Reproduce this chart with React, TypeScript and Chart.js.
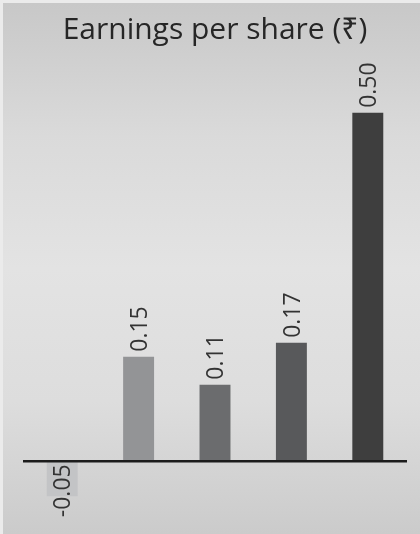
import React, { useEffect, useRef } from "react";
import { Chart, registerables } from "chart.js";

Chart.register(...registerables);

const categories = ["Q1", "Q2", "Q3", "Q4", "Q5"];
const epsValues = [-0.05, 0.15, 0.11, 0.17, 0.5];
const barColors = ["#c3c4c6", "#939496", "#6b6c6e", "#58595b", "#3e3e3e"];
const titleText = "Earnings per share (₹)";

const FONT = "'Open Sans', 'Noto Sans', 'DejaVu Sans', sans-serif";

const labelPlugin = {
  id: "epsLabels",
  afterDatasetsDraw(chart: any) {
    const ctx = chart.ctx;
    const meta = chart.getDatasetMeta(0);
    const area = chart.chartArea;
    const yZero = chart.scales.y.getPixelForValue(0);
    // zero line
    ctx.save();
    ctx.strokeStyle = "#1c1c1c";
    ctx.lineWidth = 2.6;
    ctx.beginPath();
    ctx.moveTo(area.left - 1, yZero);
    ctx.lineTo(area.right + 1, yZero);
    ctx.stroke();
    ctx.restore();

    const size = 23;
    const capH = size * 0.714;
    meta.data.forEach((bar: any, i: number) => {
      const v = epsValues[i];
      const text = v.toFixed(2);
      ctx.save();
      ctx.font = `${size}px ${FONT}`;
      ctx.fillStyle = "#333333";
      ctx.textBaseline = "alphabetic";
      if (v >= 0) {
        ctx.translate(bar.x, bar.y - 5);
        ctx.rotate(-Math.PI / 2);
        ctx.textAlign = "left";
      } else {
        ctx.translate(bar.x, bar.base + 3);
        ctx.rotate(-Math.PI / 2);
        ctx.textAlign = "right";
      }
      ctx.fillText(text, 0, capH / 2);
      ctx.restore();
    });
  },
};

export default function App() {
  const canvasRef = useRef<HTMLCanvasElement | null>(null);

  useEffect(() => {
    if (!canvasRef.current) return;
    const chart = new Chart(canvasRef.current, {
      type: "bar",
      data: {
        labels: categories,
        datasets: [
          {
            data: epsValues,
            backgroundColor: barColors,
            borderWidth: 0,
            barPercentage: 0.405,
            categoryPercentage: 1,
          },
        ],
      },
      options: {
        animation: false,
        responsive: true,
        maintainAspectRatio: false,
        layout: { padding: { left: 24, right: 14, top: 0, bottom: 3 } },
        plugins: {
          legend: { display: false },
          tooltip: { enabled: false },
          title: {
            display: true,
            text: titleText,
            color: "#262626",
            font: { family: FONT, size: 30, weight: "normal" },
            padding: { top: 12.5, bottom: 29.5 },
          },
        },
        scales: {
          x: { display: false, offset: true },
          y: { display: false, min: -0.1, max: 0.55 },
        },
      },
      plugins: [labelPlugin],
    });
    return () => chart.destroy();
  }, []);

  return (
    <div
      style={{
        position: "fixed",
        left: 0,
        top: 0,
        width: 420,
        height: 534,
        background: "#ebebeb",
      }}
    >
      <div
        style={{
          position: "absolute",
          left: 3,
          top: 3,
          right: 0,
          bottom: 0,
          background:
            "linear-gradient(to bottom, #c8c8c8 0%, #dadada 25%, #e3e3e3 50%, #dddddd 75%, #cbcbcb 100%)",
        }}
      />
      <div style={{ position: "absolute", left: 0, top: 0, width: 420, height: 534 }}>
        <canvas ref={canvasRef} />
      </div>
    </div>
  );
}
